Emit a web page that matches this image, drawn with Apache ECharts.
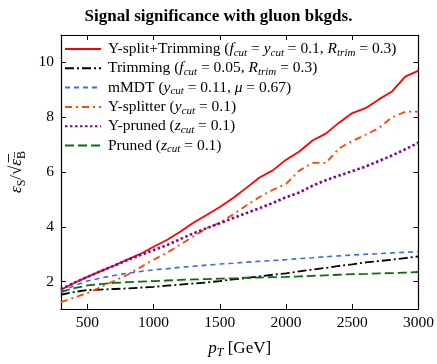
<!DOCTYPE html>
<html>
<head>
<meta charset="utf-8">
<script src="https://cdn.jsdelivr.net/npm/echarts@6/dist/echarts.min.js"></script>
<style>html,body{margin:0;padding:0;background:#fff;}#c{width:437px;height:364px;}</style>
</head>
<body>
<div id="c"></div>
<script>
const pT = [300,400,500,600,700,800,900,1000,1100,1200,1300,1400,1500,1600,1700,1800,1900,2000,2100,2200,2300,2400,2500,2600,2700,2800,2900,3000];
const ysplitTrim = [1.70,1.95,2.17,2.38,2.58,2.80,3.01,3.27,3.52,3.82,4.15,4.43,4.72,5.05,5.42,5.80,6.06,6.45,6.75,7.15,7.40,7.80,8.15,8.33,8.65,8.94,9.48,9.70];
const trimming = [1.52,1.62,1.69,1.71,1.73,1.75,1.78,1.81,1.85,1.89,1.93,1.97,2.02,2.08,2.13,2.19,2.25,2.30,2.37,2.44,2.50,2.57,2.63,2.70,2.75,2.80,2.86,2.92];
const mmdt = [1.62,1.85,2.02,2.13,2.22,2.30,2.37,2.43,2.47,2.52,2.56,2.60,2.64,2.67,2.71,2.74,2.77,2.80,2.84,2.87,2.91,2.94,2.97,3.00,3.02,3.05,3.07,3.09];
const ysplitter = [1.25,1.42,1.58,1.80,2.02,2.24,2.52,2.80,3.05,3.35,3.65,3.95,4.15,4.45,4.78,5.09,5.35,5.57,6.05,6.33,6.33,6.86,7.13,7.36,7.60,8.00,8.20,8.20];
const ypruned = [1.72,1.96,2.17,2.38,2.58,2.78,2.97,3.15,3.33,3.55,3.76,3.95,4.13,4.32,4.50,4.68,4.87,5.08,5.25,5.50,5.70,5.87,6.03,6.20,6.40,6.60,6.83,7.07];
const pruned = [1.62,1.76,1.86,1.91,1.95,1.98,2.00,2.02,2.04,2.06,2.08,2.09,2.11,2.12,2.14,2.15,2.16,2.17,2.19,2.21,2.23,2.25,2.27,2.28,2.30,2.31,2.33,2.35];
const xTicks = [500,1000,1500,2000,2500,3000];
const yTicks = [2,4,6,8,10];
const seriesNames = ['Y-split+Trimming','Trimming','mMDT','Y-splitter','Y-pruned','Pruned'];
const legendText = {
  'Y-split+Trimming': '{n|Y-split+Trimming (}{i|f}{s|cut}{n| = }{i|y}{s|cut}{n| = 0.1, }{i|R}{s|trim}{n| = 0.3)}',
  'Trimming': '{n|Trimming (}{i|f}{s|cut}{n| = 0.05, }{i|R}{s|trim}{n| = 0.3)}',
  'mMDT': '{n|mMDT (}{i|y}{s|cut}{n| = 0.11, }{i|μ}{n| = 0.67)}',
  'Y-splitter': '{n|Y-splitter (}{i|y}{s|cut}{n| = 0.1)}',
  'Y-pruned': '{n|Y-pruned (}{i|z}{s|cut}{n| = 0.1)}',
  'Pruned': '{n|Pruned (}{i|z}{s|cut}{n| = 0.1)}'
};
const F = 'Liberation Serif';
const rich = {
  n: {fontFamily: F, fontSize: 15.5, lineHeight: 19, verticalAlign: 'middle', color: '#000'},
  i: {fontFamily: F, fontSize: 15.5, fontStyle: 'italic', lineHeight: 19, verticalAlign: 'middle', color: '#000'},
  s: {fontFamily: F, fontSize: 11, fontStyle: 'italic', lineHeight: 19, verticalAlign: 'bottom', color: '#000'}
};
const toData = arr => pT.map((x, k) => [x, arr[k]]);
const styles = [
  {data: ysplitTrim, color: '#ff0000', type: 'solid', width: 1.8},
  {data: trimming, color: '#000000', type: [9,3,2,3], width: 1.8},
  {data: mmdt, color: '#4169e1', type: [5,4], width: 1.6},
  {data: ysplitter, color: '#ff4500', type: [7,4,2,4], width: 1.8},
  {data: ypruned, color: '#8b008b', type: [2.5,2.5], width: 2.6},
  {data: pruned, color: '#0b6e0b', type: [9,4], width: 1.8}
];
const axisCommon = {
  axisLine: {show: true, onZero: false, lineStyle: {color: '#000', width: 1.2}},
  splitLine: {show: false}
};
const chart = echarts.init(document.getElementById('c'), null, {renderer: 'canvas'});
chart.setOption({
  animation: false,
  backgroundColor: '#fff',
  title: {
    text: 'Signal significance with gluon bkgds.',
    left: 'center', top: 3,
    textStyle: {fontFamily: F, fontWeight: 'bold', fontSize: 17, color: '#000'}
  },
  grid: {left: 50, right: 18, top: 35, bottom: 40, containLabel: false},
  legend: {
    orient: 'vertical', left: 59, top: 36,
    itemWidth: 36, itemHeight: 14, itemGap: 1.8,
    data: seriesNames,
    itemStyle: {opacity: 0},
    formatter: name => legendText[name],
    textStyle: {rich: rich, fontFamily: F, fontSize: 15.5, padding: [0,0,0,2]}
  },
  xAxis: [
    Object.assign({}, axisCommon, {
      type: 'value', min: 300, max: 3000, position: 'bottom',
      axisTick: {show: true, inside: true, length: 5, customValues: xTicks, lineStyle: {color: '#000'}},
      axisLabel: {show: true, customValues: xTicks, formatter: v => String(v), fontFamily: F, fontSize: 15.5, color: '#000', margin: 6},
      name: '{i|p}{s|T}{n| [GeV]}', nameLocation: 'middle', nameGap: 29,
      nameTextStyle: {rich: {
        n: {fontFamily: F, fontSize: 17, lineHeight: 21, verticalAlign: 'middle', color: '#000'},
        i: {fontFamily: F, fontSize: 17, fontStyle: 'italic', lineHeight: 21, verticalAlign: 'middle', color: '#000'},
        s: {fontFamily: F, fontSize: 12, fontStyle: 'italic', lineHeight: 21, verticalAlign: 'bottom', color: '#000'}
      }}
    }),
    Object.assign({}, axisCommon, {
      type: 'value', min: 300, max: 3000, position: 'top',
      axisTick: {show: true, inside: true, length: 5, customValues: xTicks, lineStyle: {color: '#000'}},
      axisLabel: {show: false}
    })
  ],
  yAxis: [
    Object.assign({}, axisCommon, {
      type: 'value', min: 1, max: 11, position: 'left',
      axisTick: {show: true, inside: true, length: 5, customValues: yTicks, lineStyle: {color: '#000'}},
      axisLabel: {show: true, customValues: yTicks, formatter: v => String(v), fontFamily: F, fontSize: 15.5, color: '#000', margin: 7},
      name: '{i|ε}{s|S}{n|/√}{o|ε̅}{t|B̅}', nameLocation: 'middle', nameGap: 27, nameRotate: 90,
      nameTextStyle: {rich: {
        n: {fontFamily: F, fontSize: 17, lineHeight: 22, verticalAlign: 'middle', color: '#000'},
        i: {fontFamily: F, fontSize: 17, fontStyle: 'italic', lineHeight: 22, verticalAlign: 'middle', color: '#000'},
        o: {fontFamily: F, fontSize: 17, fontStyle: 'italic', lineHeight: 22, verticalAlign: 'middle', color: '#000'},
        s: {fontFamily: F, fontSize: 12, lineHeight: 22, verticalAlign: 'bottom', color: '#000'},
        t: {fontFamily: F, fontSize: 12, lineHeight: 22, verticalAlign: 'bottom', color: '#000'}
      }}
    }),
    Object.assign({}, axisCommon, {
      type: 'value', min: 1, max: 11, position: 'right',
      axisTick: {show: true, inside: true, length: 5, customValues: yTicks, lineStyle: {color: '#000'}},
      axisLabel: {show: false}
    })
  ],
  series: styles.map((s, k) => ({
    name: seriesNames[k],
    type: 'line',
    xAxisIndex: 0, yAxisIndex: 0,
    data: toData(s.data),
    symbol: 'none',
    showSymbol: false,
    smooth: false,
    color: s.color,
    lineStyle: {color: s.color, width: s.width, type: s.type, cap: 'butt'},
    z: 2 + k
  }))
});
</script>
</body>
</html>
